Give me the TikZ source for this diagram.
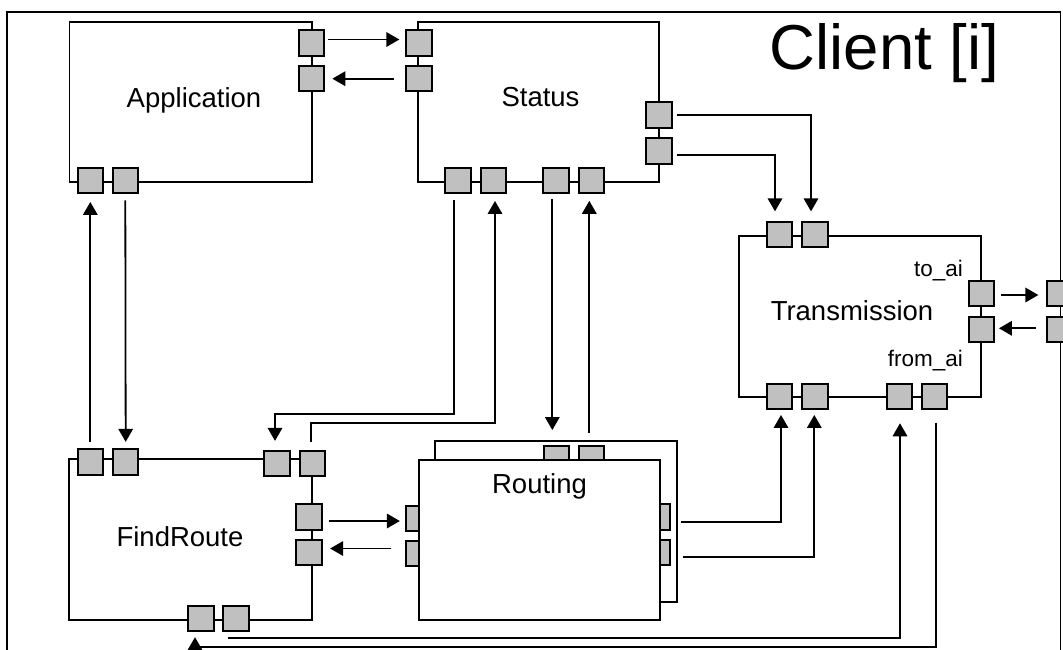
\documentclass[tikz,border=0pt]{standalone}
\usepackage{fontspec}
\setmainfont{Liberation Sans}
\usetikzlibrary{arrows.meta}
\definecolor{portgray}{HTML}{C0C0C0}
\begin{document}
\begin{tikzpicture}[x=1pt,y=-1pt,
  blk/.style={draw, line width=1.8pt, fill=white, inner sep=0pt, rectangle},
  port/.style={draw, line width=2pt, fill=portgray, rectangle,
    minimum width=25.3pt, minimum height=25.3pt, inner sep=0pt},
  conn/.style={line width=1.8pt},
  arr/.style={conn, -{Triangle[length=13pt,width=14.5pt]}},
  lbl/.style={font=\fontsize{27.5}{32}\selectfont, inner sep=0pt, anchor=base},
  small/.style={font=\fontsize{22.5}{26}\selectfont, inner sep=0pt, anchor=base east},
]
\useasboundingbox (0,0) rectangle (1063,649);
\clip (0,0) rectangle (1063,649);

% enclosing client frame
\node[blk, minimum width=1053.2pt, minimum height=687.7pt] (client) at (533.9,356.15) {};
\node[font=\fontsize{63.5}{72}\selectfont, inner sep=0pt, anchor=base] (clientT) at (884.5,69) {Client [i]};

% component boxes
\node[blk, minimum width=242.2pt, minimum height=160.3pt] (app) at (190.6,101.85) {};
\node[blk, minimum width=241pt, minimum height=160.3pt] (st) at (538.8,101.85) {};
\node[blk, minimum width=241.4pt, minimum height=161pt] (tr) at (860,316.2) {};
\node[blk, minimum width=242.4pt, minimum height=161pt] (fr) at (190.5,539.5) {};

% routing: stacked instances
\node[blk, minimum width=242pt, minimum height=160.4pt] (roBack) at (556,521.5) {};
\node[port] (roT1) at (556.3,459) {};
\node[port] (roT2) at (591.7,459) {};
\node[port] (roL1) at (419,518.5) {};
\node[port] (roL2) at (419,553.3) {};
\node[port] (roR1) at (657.5,517) {};
\node[port] (roR2) at (657.5,552.5) {};
\node[blk, minimum width=241pt, minimum height=160.3pt] (ro) at (539.5,540.15) {};

% ports: Application
\node[port] (appR1) at (311.7,43) {};
\node[port] (appR2) at (311.7,78.7) {};
\node[port] (appB1) at (90.3,180.8) {};
\node[port] (appB2) at (125.3,180.8) {};
% ports: Status
\node[port] (stL1) at (419,43) {};
\node[port] (stL2) at (419,78.7) {};
\node[port] (stR1) at (659,115) {};
\node[port] (stR2) at (659,151) {};
\node[port] (stB1) at (458,180.8) {};
\node[port] (stB2) at (493.3,180.8) {};
\node[port] (stB3) at (556,180.8) {};
\node[port] (stB4) at (591.3,180.8) {};
% ports: Transmission
\node[port] (trT1) at (779.5,234.5) {};
\node[port] (trT2) at (815,234.5) {};
\node[port] (trR1) at (981.3,293.7) {};
\node[port] (trR2) at (981.3,329.7) {};
\node[port] (trB1) at (779.5,396.3) {};
\node[port] (trB2) at (815,396.3) {};
\node[port] (trB3) at (899.5,396.3) {};
\node[port] (trB4) at (934.5,396.3) {};
% ports: client frame
\node[port] (clR1) at (1060,293.7) {};
\node[port] (clR2) at (1060,329.7) {};
% ports: FindRoute
\node[port] (frT1) at (90.3,462) {};
\node[port] (frT2) at (125.7,462) {};
\node[port] (frT3) at (277,463.5) {};
\node[port] (frT4) at (312.3,463.5) {};
\node[port] (frR1) at (309,517) {};
\node[port] (frR2) at (309,552.5) {};
\node[port] (frB1) at (201,618.5) {};
\node[port] (frB2) at (236,618.5) {};

% labels
\node[lbl] (appT) at (194,107) {Application};
\node[lbl] (stT) at (540.5,106.5) {Status};
\node[lbl] (trT) at (852,320) {Transmission};
\node[lbl] (frT) at (180,546.5) {FindRoute};
\node[lbl] (roT) at (539.5,493) {Routing};
\node[small] (toai) at (963,276.6) {to\_ai};
\node[small] (fromai) at (963,366.7) {from\_ai};

% Application <-> Status
\draw[arr, shorten <=3pt, shorten >=6pt] ([yshift=3.5pt]appR1.east) -- ([yshift=3.5pt]stL1.west);
\draw[arr, shorten <=11pt, shorten >=7pt] (stL2.west) -- (appR2.east);

% Application <-> FindRoute
\draw[arr, shorten <=6.5pt, shorten >=7.5pt] (frT1.north) -- (appB1.south);
\draw[arr, shorten <=6pt, shorten >=6.5pt] (appB2.south) -- (frT2.north);

% Status <-> FindRoute
\draw[arr, shorten <=5.5pt, shorten >=9pt] ([xshift=-4pt]stB1.south)
  -- ([xshift=-4pt]stB1.south |- 0,414) -| ([xshift=-2pt]frT3.north);
\draw[arr, shorten <=8pt, shorten >=6.5pt] ([xshift=-1pt]frT4.north)
  -- ([xshift=-1pt]frT4.north |- 0,422.7) -| ([xshift=1.7pt]stB2.south);

% Status <-> Routing
\draw[arr, shorten <=5pt, shorten >=15.3pt] ([xshift=-3.7pt]stB3.south) -- ([xshift=-4pt]roT1.north);
\draw[arr, shorten <=12.3pt, shorten >=6.4pt] ([xshift=-2.4pt]roT2.north) -- ([xshift=-2pt]stB4.south);

% Status -> Transmission
\draw[arr, shorten <=4pt, shorten >=9.5pt] (stR1.east) -| ([xshift=-4pt]trT2.north);
\draw[arr, shorten <=4pt, shorten >=9.5pt] ([yshift=-4pt]stR2.east) -| ([xshift=-4.5pt]trT1.north);

% Transmission <-> client boundary
\draw[arr, shorten <=6.5pt, shorten >=8pt] ([yshift=-1.3pt]trR1.east) -- ([yshift=-1.3pt]clR1.west);
\draw[arr, shorten <=10.5pt, shorten >=4pt] ([yshift=1.4pt]clR2.west) -- ([yshift=1.4pt]trR2.east);

% FindRoute <-> Routing
\draw[arr, shorten <=6pt, shorten >=5.5pt] ([yshift=-4pt]frR1.east) -- ([yshift=-4pt]frR1.east -| roL1.west);
\draw[arr, shorten <=14pt, shorten >=7.5pt] ([yshift=4pt]frR2.east -| roL2.west) -- ([yshift=4pt]frR2.east);

% Routing -> Transmission
\draw[arr, shorten <=9.5pt, shorten >=5pt] ([yshift=-4.7pt]roR1.east) -| ([xshift=1.5pt]trB1.south);
\draw[arr, shorten <=11.5pt, shorten >=5pt] ([yshift=-4.8pt]roR2.east) -| ([xshift=-0.7pt]trB2.south);

% FindRoute -> Transmission along the bottom
\draw[arr, shorten >=13.3pt] ([xshift=-7.7pt,yshift=-5.5pt]frB2.south) -| ([xshift=0.5pt]trB3.south);

% Transmission -> FindRoute along the bottom
\draw[conn, shorten <=12.7pt] ([xshift=1.5pt]trB4.south) |- ([xshift=-6pt,yshift=-14.5pt]frB1.south);
\draw[arr, shorten >=5pt] ([xshift=-6pt,yshift=-30pt]frB1.south) -- ([xshift=-6pt]frB1.south);
\end{tikzpicture}
\end{document}
